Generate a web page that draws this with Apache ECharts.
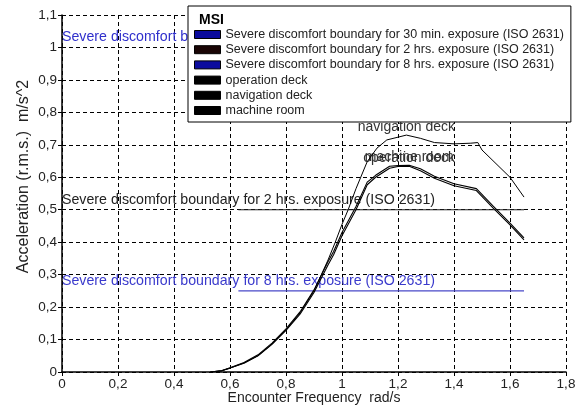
<!DOCTYPE html>
<html lang="en">
<head>
    <meta charset="UTF-8">
    <script src="https://cdn.jsdelivr.net/npm/echarts@6/dist/echarts.min.js"></script>
    <title>MSI</title>
    <style>
        html, body { margin: 0; padding: 0; background: #fff; }
    </style>
</head>
<body>
<div id="main" style="width: 579px;height:407px;"></div>
<script type="text/javascript">
        // data
        var boundaryNames = [
            'Severe discomfort boundary for 30 min. exposure (ISO 2631)',
            'Severe discomfort boundary for 2 hrs. exposure (ISO 2631)',
            'Severe discomfort boundary for 8 hrs. exposure (ISO 2631)'
        ];
        var boundaryLevels = [1.0, 0.5, 0.25];
        var boundaryFreq = [0.63, 1.65];

        var deckFreq = [0.53, 0.57, 0.6, 0.65, 0.7, 0.75, 0.8, 0.85, 0.9, 0.95, 0.97, 1.0, 1.05, 1.09, 1.12, 1.17, 1.2, 1.24, 1.28, 1.33, 1.4, 1.48, 1.54, 1.6, 1.65];
        var operationDeck = [0, 0.004, 0.012, 0.027, 0.05, 0.085, 0.128, 0.178, 0.245, 0.33, 0.361, 0.42, 0.5, 0.577, 0.6, 0.628, 0.633, 0.634, 0.62, 0.597, 0.574, 0.559, 0.505, 0.453, 0.407];
        var machineRoom = [0, 0.004, 0.013, 0.029, 0.053, 0.089, 0.133, 0.185, 0.253, 0.34, 0.371, 0.43, 0.51, 0.585, 0.606, 0.634, 0.636, 0.637, 0.626, 0.603, 0.58, 0.565, 0.511, 0.459, 0.413];

        var navFreq = [0.53, 0.57, 0.6, 0.65, 0.7, 0.75, 0.8, 0.85, 0.9, 0.95, 0.976, 1.0, 1.022, 1.05, 1.09, 1.125, 1.16, 1.23, 1.28, 1.33, 1.4, 1.46, 1.485, 1.5, 1.6, 1.65];
        var navigationDeck = [0, 0.004, 0.012, 0.028, 0.05, 0.086, 0.13, 0.182, 0.25, 0.345, 0.4, 0.455, 0.5, 0.565, 0.648, 0.69, 0.715, 0.73, 0.72, 0.707, 0.703, 0.705, 0.707, 0.684, 0.6, 0.539];

        var font = 'Liberation Sans, Arial, sans-serif';

        function pairs(xs, ys) {
            var out = [];
            for (var i = 0; i < xs.length; i++) out.push([xs[i], ys[i]]);
            return out;
        }
        function comma(v) {
            return String(Math.round(v * 10) / 10).replace('.', ',');
        }

        var boundaryLine = ['#2020c0', '#1e1e1e', '#4848c8'];
        var boundaryLabel = ['#3030cc', '#222222', '#3a3acc'];
        var legendColors = ['#0a0a9c', '#1a0505', '#0c0c9e', '#000', '#000', '#000'];

        var series = [];
        for (var i = 0; i < boundaryNames.length; i++) {
            series.push({
                name: boundaryNames[i],
                type: 'line',
                symbol: 'none',
                z: 2,
                color: boundaryLine[i],
                lineStyle: { width: 1.2, color: boundaryLine[i] },
                data: pairs(boundaryFreq, [boundaryLevels[i], boundaryLevels[i]]),
                markPoint: {
                    symbolSize: 0,
                    z: 2,
                    data: [{ coord: [0, boundaryLevels[i]] }],
                    label: {
                        show: true, position: 'right', distance: 0, offset: [0, -10],
                        formatter: boundaryNames[i], color: boundaryLabel[i],
                        fontSize: 14.2, fontFamily: font
                    }
                }
            });
        }

        function deck(name, xs, ys, width) {
            return {
                name: name,
                type: 'line',
                symbol: 'none',
                z: 2,
                color: '#000',
                lineStyle: { width: width, color: '#000' },
                data: pairs(xs, ys),
                markPoint: {
                    symbolSize: 0,
                    z: 2,
                    data: [{ type: 'max' }],
                    label: {
                        show: true, position: 'top', distance: 1,
                        formatter: name, color: '#333', fontSize: 14, fontFamily: font
                    }
                }
            };
        }
        series.push(deck('operation deck', deckFreq, operationDeck, 1.1));
        series.push(deck('navigation deck', navFreq, navigationDeck, 1));
        series.push(deck('machine room', deckFreq, machineRoom, 1.1));

        var legendData = [];
        for (var j = 0; j < series.length; j++) {
            legendData.push({ name: series[j].name, itemStyle: { color: legendColors[j] } });
        }

        var myChart = echarts.init(document.getElementById('main'));
        var option = {
            animation: false,
            backgroundColor: '#fff',
            title: {
                text: 'MSI', left: 194, top: 8, z: 30,
                textStyle: { fontSize: 14, fontWeight: 'bold', color: '#000', fontFamily: font }
            },
            legend: {
                orient: 'vertical', left: 188, top: 6, z: 20,
                padding: [22, 7, 5, 6],
                backgroundColor: '#fff', borderColor: '#000', borderWidth: 1,
                icon: 'rect', itemWidth: 26, itemHeight: 8, itemGap: 2.2,
                itemStyle: { borderColor: '#000', borderWidth: 1 },
                textStyle: { fontSize: 12.5, lineHeight: 13, color: '#222', fontFamily: font },
                selectedMode: false,
                data: legendData
            },
            grid: { left: 62, right: 13, top: 15, bottom: 35, outerBoundsMode: 'none' },
            xAxis: {
                type: 'value', min: 0, max: 1.8, interval: 0.2,
                name: 'Encounter Frequency  rad/s', nameLocation: 'middle', nameGap: 19,
                nameMoveOverlap: false,
                nameTextStyle: { fontSize: 14, color: '#222', fontFamily: font },
                axisLine: { lineStyle: { color: '#000', width: 1.5 } },
                axisTick: { lineStyle: { color: '#000' }, length: 4 },
                axisLabel: { formatter: comma, margin: 5, fontSize: 13.5, color: '#222', fontFamily: font },
                splitLine: { show: true, lineStyle: { color: '#000', type: [4, 3], width: 1 } }
            },
            yAxis: {
                type: 'value', min: 0, max: 1.1, interval: 0.1,
                name: 'Acceleration (r.m.s.)  m/s^2', nameLocation: 'middle', nameGap: 30,
                nameMoveOverlap: false,
                nameTextStyle: { fontSize: 16, color: '#222', fontFamily: font, padding: [0, 0, 0, 34] },
                axisLine: { show: true, lineStyle: { color: '#000', width: 1.5 } },
                axisTick: { show: true, lineStyle: { color: '#000' }, length: 4 },
                axisLabel: { formatter: comma, margin: 5, fontSize: 13.5, color: '#222', fontFamily: font },
                splitLine: { show: true, lineStyle: { color: '#000', type: [4, 3], width: 1 } }
            },
            series: series
        };
        myChart.setOption(option);
</script>
</body>
</html>
